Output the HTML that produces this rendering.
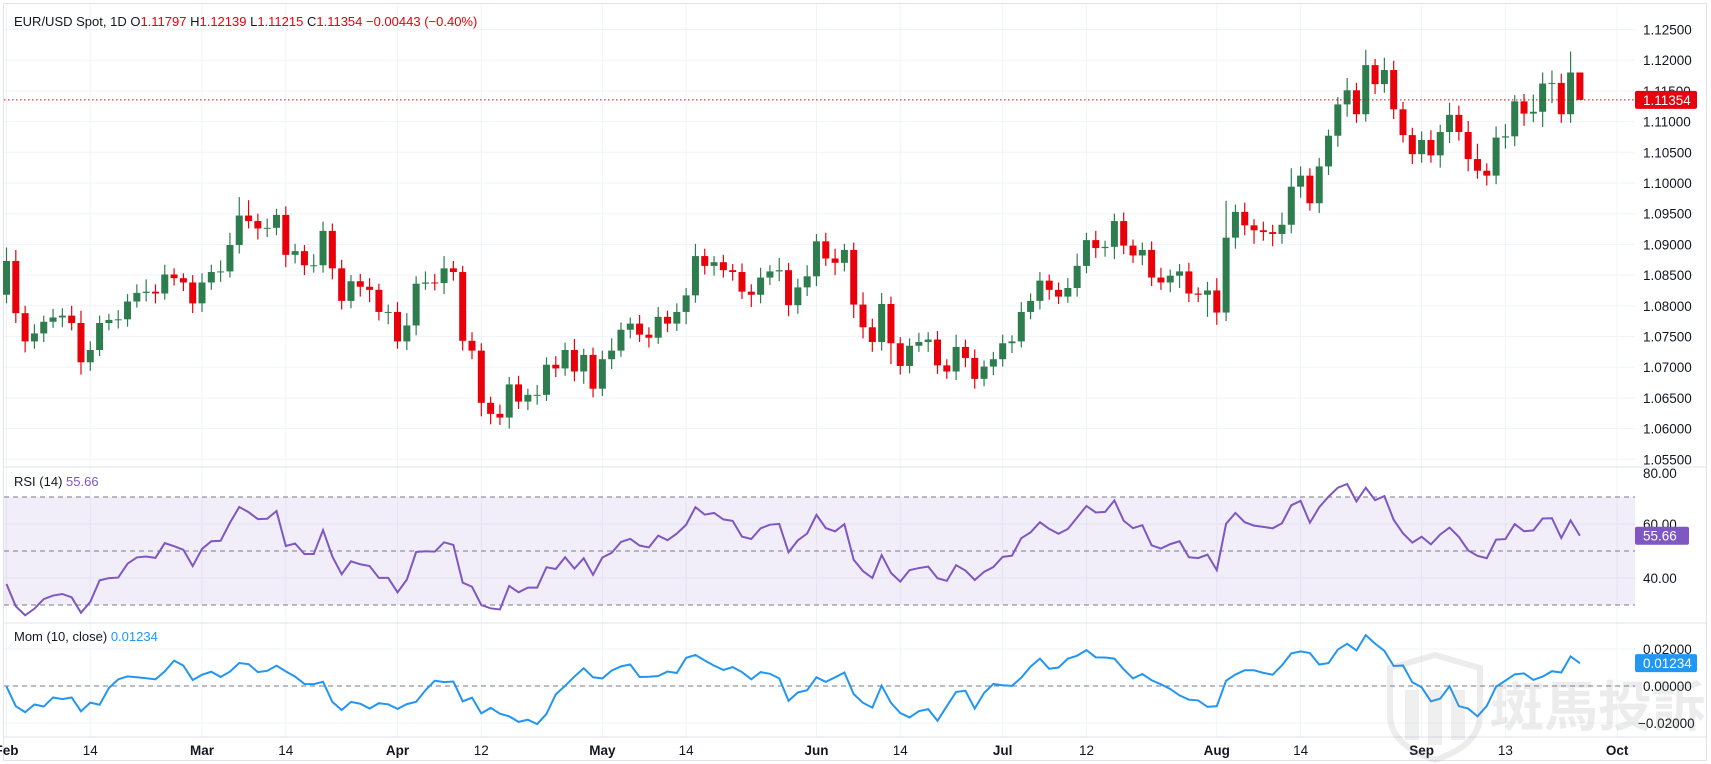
<!DOCTYPE html>
<html><head><meta charset="utf-8"><style>
html,body{margin:0;padding:0;background:#fff;}
svg{display:block;font-family:"Liberation Sans","Noto Sans CJK TC",sans-serif;}
</style></head><body>
<svg id="c" width="1711" height="764" viewBox="0 0 1711 764" xmlns="http://www.w3.org/2000/svg"></svg>
<script>
// ---- data (EUR/USD daily, Feb 1 – Sep 25) ----
const warmupCloses=[1.0973,1.0970,1.0951,1.0950,1.0877,1.0883,1.0876,1.0897,1.0884,1.0855,1.0885,1.0843,1.0855,1.0834,1.0845,1.0818];
const closes=[
1.0873,1.0788,1.0742,1.0755,1.0774,1.0781,1.0784,1.0772,1.0708,1.0728,1.0772,1.0777,1.0778,1.0807,1.0821,1.0823,1.0820,1.0851,1.0845,1.0838,1.0804,
1.0838,1.0855,1.0856,1.0899,1.0947,1.0938,1.0926,1.0927,1.0948,1.0883,1.0889,1.0866,1.0866,1.0922,1.0861,1.0808,1.0840,1.0831,1.0826,1.0790,1.0790,
1.0742,1.0768,1.0836,1.0838,1.0837,1.0861,1.0855,1.0743,1.0727,1.0642,1.0624,1.0618,1.0672,1.0644,1.0655,1.0655,1.0704,1.0698,1.0728,1.0693,1.0720,1.0665,
1.0713,1.0727,1.0761,1.0771,1.0753,1.0748,1.0782,1.0771,1.0790,1.0817,1.0881,1.0865,1.0871,1.0858,1.0855,1.0823,1.0818,1.0846,1.0856,1.0858,1.0801,1.0830,1.0848,
1.0905,1.0877,1.0870,1.0891,1.0802,1.0765,1.0741,1.0803,1.0739,1.0702,1.0735,1.0741,1.0745,1.0703,1.0693,1.0733,1.0715,1.0681,1.0701,1.0713,
1.0739,1.0742,1.0790,1.0808,1.0841,1.0826,1.0815,1.0829,1.0865,1.0907,1.0894,1.0896,1.0938,1.0898,1.0882,1.0891,1.0846,1.0838,1.0849,1.0856,1.0820,1.0818,1.0825,
1.0789,1.0911,1.0953,1.0931,1.0923,1.0920,1.0917,1.0932,1.0994,1.1012,1.0967,1.1027,1.1077,1.1128,1.1151,1.1112,1.1192,1.1161,1.1184,1.1120,1.1078,1.1047,
1.1070,1.1045,1.1083,1.1111,1.1083,1.1039,1.1020,1.1012,1.1074,1.1076,1.1133,1.1113,1.1116,1.1162,1.1163,1.1112,1.1180,1.11354];
const firstOpen=1.0818;
// wick sizes in pips (estimated)
const upWick=[22,18,12,15,10,14,12,16,20,14,12,10,15,12,14,20,12,16,10,8,12,
15,12,18,20,30,25,12,15,10,14,12,10,18,15,12,14,10,12,14,10,
12,16,20,12,18,14,20,12,10,14,12,10,15,12,14,10,16,12,14,12,18,10,
12,14,20,12,10,14,12,16,10,14,12,20,12,10,12,10,14,12,16,10,20,12,14,
18,12,14,16,10,12,20,14,18,12,10,12,15,12,14,10,20,12,14,10,
12,14,10,16,12,14,10,12,16,20,12,15,10,12,14,10,12,14,16,10,12,14,10,
14,20,60,12,15,10,14,12,20,30,15,12,14,10,12,20,12,25,10,20,15,12,
12,14,16,12,20,15,18,25,12,18,20,10,12,28,18,20,15,34];
const dnWick=[14,16,18,12,14,10,16,12,20,14,10,12,14,12,10,14,16,10,12,14,16,
14,12,16,10,14,12,18,14,12,20,14,16,12,12,18,14,12,16,20,14,
20,12,14,16,10,12,18,14,16,14,22,17,12,18,12,14,16,10,14,12,16,20,
14,12,16,10,14,12,16,10,14,12,20,12,14,16,12,14,12,20,14,12,16,18,14,
14,16,12,20,14,22,18,16,14,34,14,12,10,16,14,12,14,15,16,12,
14,12,16,10,12,14,16,12,10,14,12,16,14,20,14,12,16,14,12,16,20,14,12,
36,20,14,18,16,22,14,20,16,14,18,12,16,14,18,20,14,12,16,14,16,12,
16,14,12,20,18,14,20,13,16,14,18,16,20,14,25,32,14,14];
const priceTicks=[1.125,1.12,1.115,1.11,1.105,1.10,1.095,1.09,1.085,1.08,1.075,1.07,1.065,1.06,1.055];
const rsiTicks=[80,60,40];
const momTicks=[0.02,0,-0.02];
const timeLabels=["Feb","14","Mar","14","Apr","12","May","14","Jun","14","Jul","12","Aug","14","Sep","13","Oct"];
const timeIdx=[0,9,21,30,42,51,64,73,87,96,107,116,130,139,152,161,173];
const timeBold=[1,0,1,0,1,0,1,0,1,0,1,0,1,0,1,0,1];

// ---- layout ----
const PL=4,PR=1635,MT=4,MB=467,RT=467,RB=623,OT=623,OB=737;
const xOf=i=>6.5+i*9.31;
const yP=p=>29.5+(1.125-p)*6140;
const yR=v=>551-(v-50)*2.7;
const yM=v=>686-v*1850;
const svg=document.getElementById('c');
const NS='http://www.w3.org/2000/svg';
function mk(tag,attrs,parent){const e=document.createElementNS(NS,tag);for(const k in attrs)e.setAttribute(k,attrs[k]);(parent||svg).appendChild(e);return e;}

// indicators
const all=warmupCloses.concat(closes);
const W=warmupCloses.length;
let ag=0,al=0;const rsiAll=[];
for(let i=1;i<all.length;i++){const d=all[i]-all[i-1];const g=Math.max(d,0),l=Math.max(-d,0);
 if(i<=14){ag+=g/14;al+=l/14;}else{ag=(ag*13+g)/14;al=(al*13+l)/14;}
 rsiAll[i]=al===0?100:100-100/(1+ag/al);}
const rsi=closes.map((c,i)=>rsiAll[i+W]);
const mom=closes.map((c,i)=>all[i+W]-all[i+W-10]);

// grid
const grid=mk('g',{});


timeIdx.forEach(ti=>{const x=xOf(ti);if(x<PR)mk('line',{x1:x,x2:x,y1:MT,y2:OB,stroke:'#f0f3fa','stroke-width':1},grid);});
priceTicks.forEach(p=>mk('line',{x1:PL,x2:PR,y1:yP(p),y2:yP(p),stroke:'#f0f3fa'},grid));
[60,40].forEach(v=>mk('line',{x1:PL,x2:PR,y1:yR(v),y2:yR(v),stroke:'#f0f3fa'},grid));
momTicks.forEach(v=>mk('line',{x1:PL,x2:PR,y1:yM(v),y2:yM(v),stroke:'#f0f3fa'},grid));

// pane separators & border
mk('rect',{x:3.5,y:3.5,width:1703,height:757,fill:'none',stroke:'#e0e3eb'});
mk('line',{x1:4,x2:1707,y1:MB,y2:MB,stroke:'#e0e3eb'});
mk('line',{x1:4,x2:1707,y1:RB,y2:RB,stroke:'#e0e3eb'});
mk('line',{x1:4,x2:1707,y1:OB,y2:OB,stroke:'#e0e3eb'});

// candles
const cg=mk('g',{});


closes.forEach((c,i)=>{
 const o=i===0?firstOpen:closes[i-1];
 const h=Math.max(o,c)+upWick[i]*0.0001,l=Math.min(o,c)-dnWick[i]*0.0001;
 const col=c>=o?'#2e7d4f':'#e8000b';const x=xOf(i);
 const g=mk('g',{},cg);
 
 
 mk('line',{x1:x,x2:x,y1:yP(h),y2:yP(l),stroke:col,'stroke-width':1.2},g);
 const t=yP(Math.max(o,c)),b=yP(Math.min(o,c));
 mk('rect',{x:x-3.5,y:t,width:7,height:Math.max(b-t,1),fill:col},g);
});
const last=closes[closes.length-1];
const pl=mk('line',{x1:PL,x2:PR,y1:yP(last),y2:yP(last),stroke:'#e8000b','stroke-dasharray':'1.5 2.5'});



// price axis
priceTicks.forEach(p=>{const t=mk('text',{x:1643,y:yP(p)+5,'font-size':13.5,fill:'#131722'});t.textContent=p.toFixed(5);
 });
const pb=mk('g',{});


mk('rect',{x:1635,y:yP(last)-9,width:62,height:18,rx:2,fill:'#e8000b'},pb);
mk('text',{x:1643,y:yP(last)+5,'font-size':13.5,fill:'#fff'},pb).textContent=last.toFixed(5);

// RSI pane
mk('rect',{x:PL,y:yR(70),width:PR-PL,height:yR(30)-yR(70),fill:'rgba(126,87,194,0.1)'});
[70,50,30].forEach(v=>mk('line',{x1:PL,x2:PR,y1:yR(v),y2:yR(v),stroke:'#787b86','stroke-dasharray':'5 4'}));
const rl=mk('polyline',{points:rsi.map((v,i)=>xOf(i)+','+yR(v)).join(' '),fill:'none',stroke:'#7e57c2','stroke-width':2});


rsiTicks.forEach(v=>{const y=yR(v);const t=mk('text',{x:1643,y:Math.max(y+5,478),'font-size':13.5,fill:'#131722'});t.textContent=v.toFixed(2);
 });
const lastR=rsi[rsi.length-1];
mk('rect',{x:1635,y:yR(lastR)-9,width:54,height:18,rx:2,fill:'#7e57c2'});
mk('text',{x:1643,y:yR(lastR)+5,'font-size':13.5,fill:'#fff'}).textContent=lastR.toFixed(2);

// Mom pane
mk('line',{x1:PL,x2:PR,y1:yM(0),y2:yM(0),stroke:'#787b86','stroke-dasharray':'5 4'});
const ml=mk('polyline',{points:mom.map((v,i)=>xOf(i)+','+yM(v)).join(' '),fill:'none',stroke:'#2196f3','stroke-width':2});


momTicks.forEach(v=>{const t=mk('text',{x:v<0?1638:1643,y:yM(v)+5,'font-size':13.5,fill:'#131722'});t.textContent=(v<0?'−':'')+Math.abs(v).toFixed(5);
 });
const lastM=mom[mom.length-1];
mk('rect',{x:1635,y:yM(lastM)-9,width:62,height:18,rx:2,fill:'#2196f3'});
mk('text',{x:1643,y:yM(lastM)+5,'font-size':13.5,fill:'#fff'}).textContent=lastM.toFixed(5);

// time axis
timeLabels.forEach((s,k)=>{const t=mk('text',{x:xOf(timeIdx[k]),y:755,'font-size':13.5,'text-anchor':'middle',fill:'#131722','font-weight':timeBold[k]?'bold':'normal'});t.textContent=s;
 });

// legends
function legend(y,parts,name){const t=mk('text',{x:14,y:y,'font-size':13});
 parts.forEach(p=>{const s=mk('tspan',{fill:p[1]},t);s.textContent=p[0];});}
legend(26,[["EUR/USD Spot, 1D  ","#131722"],["O","#131722"],["1.11797  ","#e8000b"],["H","#131722"],["1.12139  ","#e8000b"],["L","#131722"],["1.11215  ","#e8000b"],["C","#131722"],["1.11354  ","#e8000b"],["−0.00443 (−0.40%)","#e8000b"]],'price-legend');
legend(486,[["RSI (14)  ","#131722"],[lastR.toFixed(2),"#7e57c2"]],'rsi-legend');
legend(641,[["Mom (10, close)  ","#131722"],[lastM.toFixed(5),"#2196f3"]],'mom-legend');

// watermark
const wm=mk('g',{opacity:0.15});


mk('path',{d:'M1390 668 L1435 655 L1480 668 L1480 715 Q1480 745 1435 760 Q1390 745 1390 715 Z',fill:'none',stroke:'#888','stroke-width':6},wm);
mk('rect',{x:1405,y:690,width:14,height:50,fill:'#999'},wm);
mk('rect',{x:1428,y:690,width:14,height:55,fill:'#999'},wm);
mk('rect',{x:1451,y:690,width:14,height:50,fill:'#999'},wm);
mk('text',{x:1490,y:726,'font-size':54,fill:'#888','font-family':'"Noto Sans CJK TC",sans-serif','font-weight':'bold'},wm).textContent='斑馬投訴';
</script>
</body></html>
